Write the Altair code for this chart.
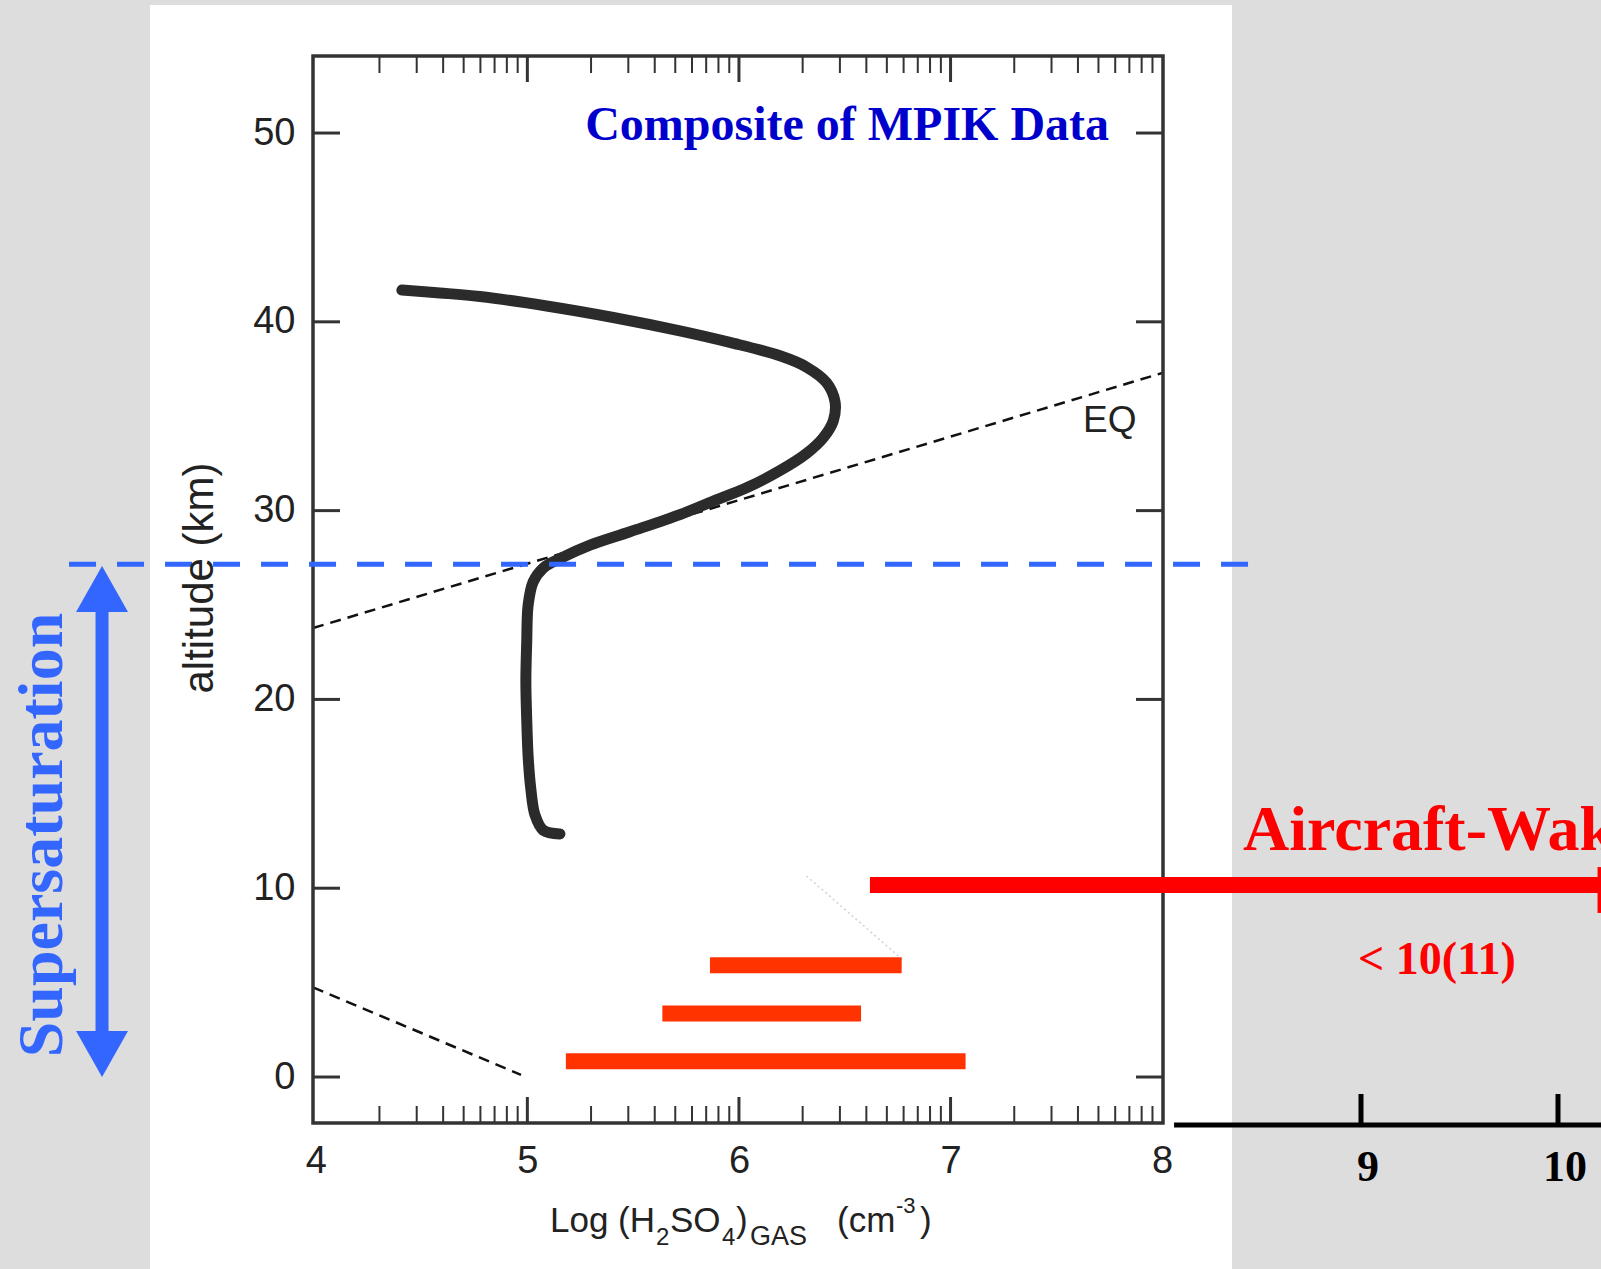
import math
import altair as alt
import pandas as pd

# ---------------- data ----------------
# H2SO4 composite profile (log concentration, altitude km)
curve_logc = [4.407, 4.587, 4.776, 5.091, 5.406, 5.721, 5.957, 6.194, 6.320, 6.414,
              6.454, 6.446, 6.398, 6.320, 6.194, 6.036, 5.879, 5.721, 5.485, 5.296,
              5.154, 5.075, 5.028, 5.004, 4.997, 4.993, 4.997, 5.004, 5.016, 5.036,
              5.075, 5.154]
curve_alt = [41.68, 41.53, 41.34, 40.84, 40.23, 39.52, 38.91, 38.20, 37.60, 36.78,
             35.77, 34.76, 33.85, 33.03, 32.12, 31.21, 30.51, 29.79, 28.88, 28.17,
             27.46, 26.96, 26.24, 25.03, 23.00, 20.97, 18.95, 16.92, 15.30, 13.88,
             13.07, 12.87]

# equilibrium (EQ) dashed lines
eq_upper_logc = [3.987, 8.004]
eq_upper_alt = [23.78, 37.30]
eq_lower_logc = [3.987, 4.97]
eq_lower_alt = [4.75, 0.11]
faint_logc = [6.319, 6.775]
faint_alt = [10.65, 6.20]

# lower-troposphere ranges (red bars)
bar_start = [5.863, 5.638, 5.182]
bar_end = [6.769, 6.577, 7.071]
bar_alt = [5.92, 3.37, 0.83]

# aircraft wake range
wake_start = [6.619]
wake_end = [10.2]
wake_alt = [10.17]
wake_cap_logc = [10.067]
wake_cap_alt = [11.12]
wake_cap_alt2 = [8.69]

# supersaturation boundary
super_alt = [27.16]
super_from = [2.834]
super_to = [8.443]
arrow_logc = [2.990]
arrow_top = [25.85]
arrow_bottom = [1.22]
arrow_shaft_top = [24.95]
arrow_shaft_bottom = [2.17]

# ticks / labels
y_ticks = [0, 10, 20, 30, 40, 50]
x_ticks = [4, 5, 6, 7, 8]
x_major_inner = [5, 6, 7]
x_minor = [k + math.log10(m) for k in range(4, 8) for m in range(2, 10)]
ext_ticks = [9, 10]
ext_range = [8.051, 10.3]

title_text = ["Composite of MPIK Data"]
eq_text = ["EQ"]
wake_text = ["Aircraft-Wake"]
wake_value_text = ["< 10(11)"]
ylabel_text = "altitude (km)"
super_text = "Supersaturation"
xtitle_parts = ["Log (H", "2", "SO", "4", ")", "GAS", "(cm", "-3", ")"]

# ---------------- style ----------------
SANS = "Liberation Sans"
SERIF = "Liberation Serif"
BLUE = "#3366ff"
FRAME = "#333333"
W, H = 850, 1067

XS = alt.Scale(domain=[3.987, 8.004], nice=False, zero=False)
YS = alt.Scale(domain=[-2.436, 54.08], nice=False, zero=False)
XE = alt.Scale(domain=[9, 10], range=[1048, 1245], nice=False, zero=False)

x_axis = alt.Axis(values=x_ticks, format="d", ticks=False, tickSize=0, domain=False,
                  grid=False, labelFontSize=38, labelFont=SANS, labelColor="#222222",
                  labelPadding=19, labelFlush=False, labelOverlap=False, title=None,
                  zindex=2)
y_axis = alt.Axis(values=y_ticks, format="d", ticks=False, tickSize=0, domain=False,
                  grid=False, labelFontSize=38, labelFont=SANS, labelColor="#222222",
                  labelPadding=18, labelFlush=False, labelOverlap=False, title=None,
                  zindex=2)


def X(f):
    return alt.X(f, type="quantitative", scale=XS, axis=x_axis)


def Y(f):
    return alt.Y(f, type="quantitative", scale=YS, axis=y_axis)


one = pd.DataFrame({"d": [0]})

# white panel behind the figure
panel = alt.Chart(one).mark_rect(color="white").encode(
    x=alt.value(-163), x2=alt.value(919), y=alt.value(-51), y2=alt.value(1213))

# EQ dashed lines
eq_df = pd.DataFrame({
    "v": eq_upper_logc + eq_lower_logc,
    "a": eq_upper_alt + eq_lower_alt,
    "g": ["u", "u", "l", "l"],
})
eq_lines = alt.Chart(eq_df).mark_line(color="#111111", strokeWidth=2.5,
                                      strokeDash=[11, 7]).encode(
    x=X("v"), y=Y("a"), detail="g:N")

faint = alt.Chart(pd.DataFrame({"v": faint_logc, "a": faint_alt})).mark_line(
    color="#d0d0d0", strokeWidth=1.5, strokeDash=[2, 3]).encode(x=X("v"), y=Y("a"))

# red bars
bars = alt.Chart(pd.DataFrame({"s": bar_start, "e": bar_end, "a": bar_alt})).mark_rule(
    color="#ff3300", strokeWidth=16).encode(x=X("s"), x2="e:Q", y=Y("a"))

# frame and inward ticks
frame = alt.Chart(one).mark_rect(fillOpacity=0, stroke=FRAME, strokeWidth=3.5).encode(
    x=alt.value(0), x2=alt.value(W), y=alt.value(0), y2=alt.value(H))

ydf = pd.DataFrame({"v": y_ticks})
yt_left = alt.Chart(ydf).mark_rule(color=FRAME, strokeWidth=3).encode(
    y=Y("v"), x=alt.value(0), x2=alt.value(27))
yt_right = alt.Chart(ydf).mark_rule(color=FRAME, strokeWidth=3).encode(
    y=Y("v"), x=alt.value(W - 27), x2=alt.value(W))

xmaj = pd.DataFrame({"v": x_major_inner})
xmin = pd.DataFrame({"v": x_minor})
xt_bot = alt.Chart(xmaj).mark_rule(color=FRAME, strokeWidth=3).encode(
    x=X("v"), y=alt.value(H), y2=alt.value(H - 26))
xt_top = alt.Chart(xmaj).mark_rule(color=FRAME, strokeWidth=3).encode(
    x=X("v"), y=alt.value(0), y2=alt.value(26))
xm_bot = alt.Chart(xmin).mark_rule(color=FRAME, strokeWidth=2).encode(
    x=X("v"), y=alt.value(H), y2=alt.value(H - 17))
xm_top = alt.Chart(xmin).mark_rule(color=FRAME, strokeWidth=2).encode(
    x=X("v"), y=alt.value(0), y2=alt.value(17))

# profile curve
curve_df = pd.DataFrame({"v": curve_logc, "a": curve_alt, "i": list(range(len(curve_alt)))})
curve = alt.Chart(curve_df).mark_line(color="#2b2b2b", strokeWidth=11, strokeCap="round",
                                      strokeJoin="round", interpolate="catmull-rom").encode(
    x=X("v"), y=Y("a"), order="i:Q")

# supersaturation line and arrow
super_line = alt.Chart(pd.DataFrame({"s": super_from, "e": super_to, "a": super_alt})).mark_rule(
    color=BLUE, strokeWidth=5, strokeDash=[27, 21]).encode(x=X("s"), x2="e:Q", y=Y("a"))
shaft = alt.Chart(pd.DataFrame({"v": arrow_logc, "t": arrow_shaft_top, "b": arrow_shaft_bottom})).mark_rule(
    color=BLUE, strokeWidth=13).encode(x=X("v"), y=Y("t"), y2="b:Q")
head_up = alt.Chart(pd.DataFrame({"v": arrow_logc, "a": arrow_top})).mark_point(
    shape="M0,-0.885L1,0.885L-1,0.885Z", size=2704, filled=True, color=BLUE,
    opacity=1, strokeWidth=0).encode(x=X("v"), y=Y("a"))
head_down = alt.Chart(pd.DataFrame({"v": arrow_logc, "a": arrow_bottom})).mark_point(
    shape="M0,0.885L1,-0.885L-1,-0.885Z", size=2704, filled=True, color=BLUE,
    opacity=1, strokeWidth=0).encode(x=X("v"), y=Y("a"))
super_label = alt.Chart(one).mark_text(
    text=super_text, angle=270, align="center", baseline="alphabetic", font=SERIF,
    fontSize=64, fontWeight="bold", color=BLUE).encode(x=alt.value(-251), y=alt.value(779))

# aircraft wake
wake = alt.Chart(pd.DataFrame({"s": wake_start, "e": wake_end, "a": wake_alt})).mark_rule(
    color="#ff0000", strokeWidth=16).encode(x=X("s"), x2="e:Q", y=Y("a"))
wake_cap = alt.Chart(pd.DataFrame({"v": wake_cap_logc, "t": wake_cap_alt, "b": wake_cap_alt2})).mark_rule(
    color="#ff0000", strokeWidth=4).encode(x=X("v"), y=Y("t"), y2="b:Q")
wake_lbl = alt.Chart(pd.DataFrame({"v": [8.382], "a": [12.02], "t": wake_text})).mark_text(
    align="left", baseline="alphabetic", font=SERIF, fontSize=64, fontWeight="bold",
    color="#ff0000").encode(x=X("v"), y=Y("a"), text="t:N")
wake_val = alt.Chart(pd.DataFrame({"v": [9.299], "a": [5.46], "t": wake_value_text})).mark_text(
    align="center", baseline="alphabetic", font=SERIF, fontSize=46, fontWeight="bold",
    color="#ff0000").encode(x=X("v"), y=Y("a"), text="t:N")

# texts inside the plot
title = alt.Chart(pd.DataFrame({"v": [6.511], "a": [49.63], "t": title_text})).mark_text(
    align="center", baseline="alphabetic", font=SERIF, fontSize=48, fontWeight="bold",
    color="#0000cc").encode(x=X("v"), y=Y("a"), text="t:N")
eq_lbl = alt.Chart(pd.DataFrame({"v": [7.626], "a": [34.75], "t": eq_text})).mark_text(
    align="left", baseline="middle", font=SANS, fontSize=37, color="#222222").encode(
    x=X("v"), y=Y("a"), text="t:N")

ylabel = alt.Chart(one).mark_text(
    text=ylabel_text, angle=270, align="center", baseline="alphabetic", font=SANS,
    fontSize=42, color="#222222").encode(x=alt.value(-100), y=alt.value(522))

# x-axis title built from pieces (sub/superscripts)
xt_pos = [(237, 1176), (343, 1189), (357, 1176), (409, 1189), (423, 1176),
          (437, 1189), (524, 1176), (583, 1157), (607, 1176)]
xt_size = [35, 24, 35, 24, 35, 27, 35, 22, 35]
xtitle_layers = []
for txt, (px, py), fs in zip(xtitle_parts, xt_pos, xt_size):
    xtitle_layers.append(
        alt.Chart(one).mark_text(text=txt, align="left", baseline="alphabetic", font=SANS,
                                 fontSize=fs, color="#222222").encode(
            x=alt.value(px), y=alt.value(py)))

main = alt.layer(panel, eq_lines, faint, bars, frame, yt_left, yt_right, xt_bot, xt_top,
                 xm_bot, xm_top, curve, super_line, shaft, head_up, head_down, super_label,
                 wake, wake_cap, wake_lbl, wake_val, title, eq_lbl, ylabel, *xtitle_layers)

# extended axis (9, 10) on the right
ext_line = alt.Chart(pd.DataFrame({"s": [ext_range[0]], "e": [ext_range[1]]})).mark_rule(
    color="black", strokeWidth=5).encode(
    x=alt.X("s:Q", scale=XE, axis=None), x2="e:Q", y=alt.value(1069))
edf = pd.DataFrame({"v": ext_ticks, "t": [str(t) for t in ext_ticks]})
ext_tk = alt.Chart(edf).mark_rule(color="black", strokeWidth=5).encode(
    x=alt.X("v:Q", scale=XE, axis=None), y=alt.value(1038), y2=alt.value(1069))
ext_lb = alt.Chart(edf).mark_text(dx=7, align="center", baseline="alphabetic", font=SERIF,
                                  fontSize=44, fontWeight="bold", color="black").encode(
    x=alt.X("v:Q", scale=XE, axis=None), y=alt.value(1125), text="t:N")
ext = alt.layer(ext_line, ext_tk, ext_lb)

chart = alt.layer(main, ext).resolve_scale(x="independent").properties(
    width=W, height=H,
    padding={"left": 313, "top": 56, "right": 438, "bottom": 146},
    autosize=alt.AutoSizeParams(type="none"),
    background="#dddddd",
).configure_view(stroke=None)

chart.save("out.html", embed_options={"renderer": "svg", "actions": False})
